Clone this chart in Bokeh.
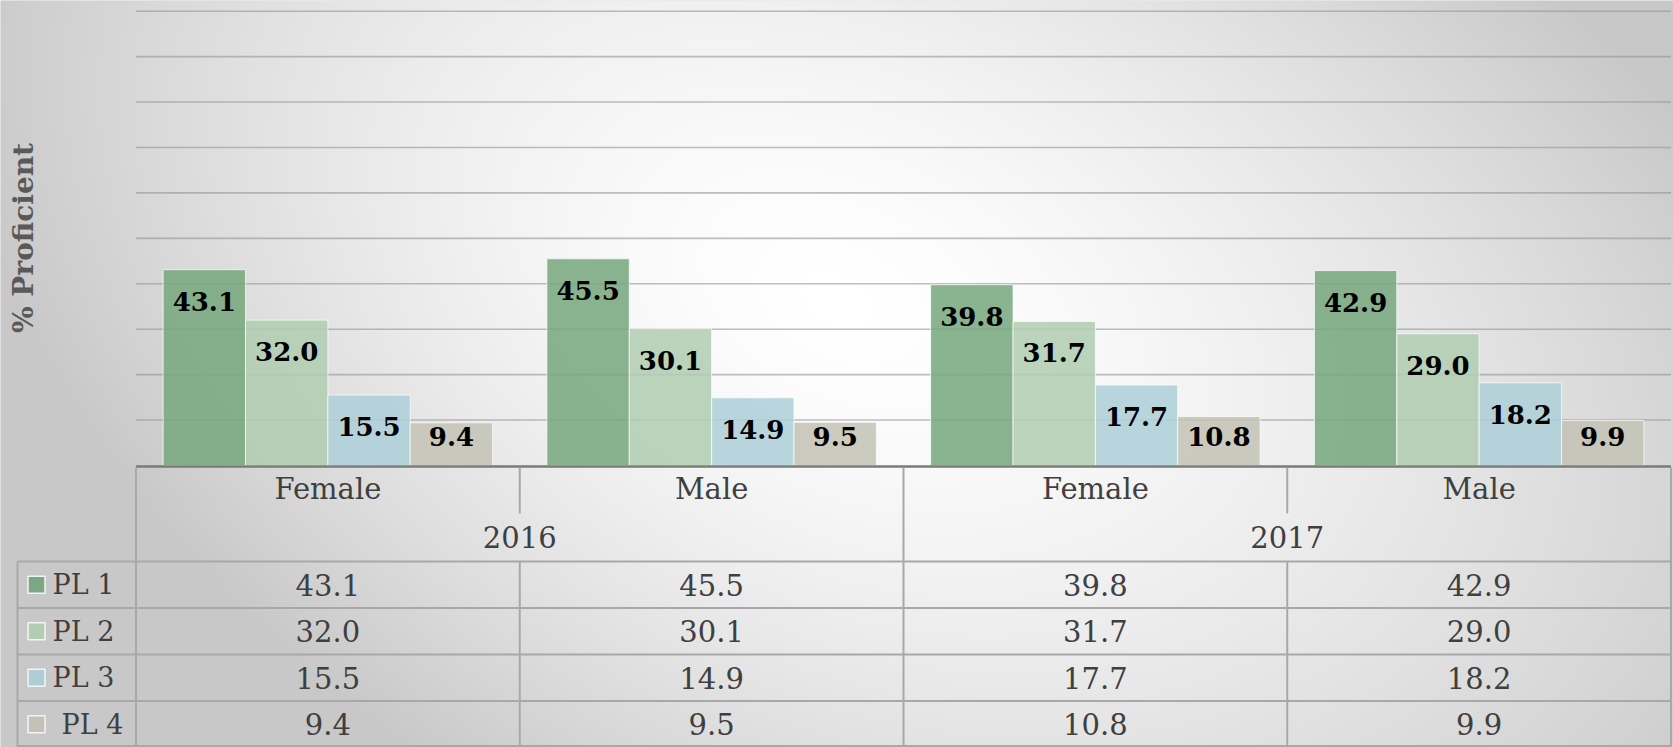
import numpy as np
from bokeh.plotting import figure
from bokeh.models import Range1d, ColumnDataSource
from bokeh.transform import dodge
from bokeh.core.properties import value
from bokeh.embed import file_html
from bokeh.resources import INLINE

# ---------------- data ----------------
years = ["2016", "2017"]
genders = ["Female", "Male", "Female", "Male"]
series = ["PL 1", "PL 2", "PL 3", "PL 4"]
pl1 = [43.1, 45.5, 39.8, 42.9]
pl2 = [32.0, 30.1, 31.7, 29.0]
pl3 = [15.5, 14.9, 17.7, 18.2]
pl4 = [9.4, 9.5, 10.8, 9.9]
y_ticks = [10, 20, 30, 40, 50, 60, 70, 80, 90, 100]
y_title = "% Proficient"
colors = ["#77a67e", "#b2cdb1", "#adcfd8", "#c4c2b5"]

# ---------------- layout (reference pixel frame) ----------------
W_REF, H_REF = 1673, 747
FIG_W, FIG_H = 1673, 747
BASE_PX, TOP_PX, YMAX = 465.0, 10.7, 100.0
K = (BASE_PX - TOP_PX) / YMAX            # px per value unit
CAT_LEFT, CAT_RIGHT = 135.5, 1670.5
NCAT = len(genders)
CAT_W = (CAT_RIGHT - CAT_LEFT) / NCAT
TABLE_LEFT = 17.0
ROW1_TOP, ROW2_TOP, HEAD_BOT = 465.0, 513.0, 561.0
ROW_H = (H_REF - HEAD_BOT) / 4
BAR_W = 0.2146
FONT = "DejaVu Serif"
TXT_COL = "#3f3f3f"
LINE_COL = "#a8a8a8"
TBL_SIZE = 29.0
SHIFT = 11.0 * TBL_SIZE / 27.0   # renderer places alphabetic text this much lower
SHIFT_PL = 11.0
SHIFT_LAB = 11.0 * 26.0 / 27.0

p = figure(width=FIG_W, height=FIG_H, x_range=Range1d(0, W_REF), y_range=Range1d(H_REF, 0),
           x_axis_type=None, y_axis_type=None, toolbar_location=None,
           output_backend="svg", min_border=0)
p.outline_line_color = None
p.background_fill_color = "#d6d6d6"
p.border_fill_color = "#d6d6d6"
p.grid.visible = False

p.extra_x_ranges = {"cat": Range1d(-CAT_LEFT / CAT_W, (W_REF - CAT_LEFT) / CAT_W),
                    "bg": Range1d(0, 1)}
p.extra_y_ranges = {"val": Range1d(-(H_REF - BASE_PX) / K, BASE_PX / K),
                    "bg": Range1d(0, 1)}

# ---------------- background gradient ----------------
Hb, Wb = 374, 837
xs = (np.arange(Wb) + 0.5) / Wb * W_REF
ys = H_REF - (np.arange(Hb) + 0.5) / Hb * H_REF
X, Y = np.meshgrid(xs, ys)
cx = 700 + 0.45 * Y
rx = np.where(X > cx, 960.0, 820.0)
r = np.sqrt(((X - cx) / rx) ** 2 + ((Y - 300.0) / 700.0) ** 2)
t = np.clip(r, 0, 1) ** 1.5
g = np.round(255 - 55 * t).astype(np.uint8)
img = np.empty((Hb, Wb), dtype=np.uint32)
view = img.view(dtype=np.uint8).reshape((Hb, Wb, 4))
view[..., 0] = g
view[..., 1] = g
view[..., 2] = g
view[..., 3] = 255
p.image_rgba(image=[img], x=0, y=0, dw=1, dh=1, x_range_name="bg", y_range_name="bg")

# ---------------- gridlines ----------------
p.segment(x0=CAT_LEFT, x1=CAT_RIGHT, y0=y_ticks, y1=y_ticks, y_range_name="val",
          line_color="#959595", line_alpha=0.6, line_width=1.6)

# ---------------- bars + labels ----------------
vals = [pl1, pl2, pl3, pl4]
src = {"idx": [i + 0.5 for i in range(NCAT)]}
drop = (42.0 - SHIFT_LAB) / K
floor = (18.0 + SHIFT_LAB) / K
for j, v in enumerate(vals):
    src[f"v{j}"] = v
    src[f"t{j}"] = [f"{a:.1f}" for a in v]
    src[f"l{j}"] = [max(a - drop, floor) for a in v]
source = ColumnDataSource(src)
offsets = [(j - 1.5) * BAR_W for j in range(4)]
for j in range(4):
    p.vbar(x=dodge("idx", offsets[j]), top=f"v{j}", bottom=0, width=BAR_W, source=source,
           x_range_name="cat", y_range_name="val", fill_color=colors[j], fill_alpha=0.86,
           line_color="white", line_alpha=0.7, line_width=1)
for j in range(4):
    p.text(x=dodge("idx", offsets[j]), y=f"l{j}", text=f"t{j}", source=source,
           x_range_name="cat", y_range_name="val", text_align="center",
           text_baseline="alphabetic", text_font=value(FONT), text_font_style="bold",
           text_font_size="26px", text_color="#000000")

# ---------------- category axis / table ----------------
p.segment(x0=[CAT_LEFT], x1=[CAT_RIGHT], y0=[BASE_PX + 1], y1=[BASE_PX + 1],
          line_color="#7a7a7a", line_width=2.5)
h_lines = [HEAD_BOT + ROW_H * r for r in range(5)]
h_lines[-1] = H_REF - 1.5
p.segment(x0=TABLE_LEFT, x1=CAT_RIGHT, y0=h_lines, y1=h_lines,
          line_color=LINE_COL, line_width=2)
p.segment(x0=[CAT_LEFT, CAT_RIGHT, TABLE_LEFT], x1=[CAT_LEFT, CAT_RIGHT, TABLE_LEFT],
          y0=[ROW1_TOP + 2, ROW1_TOP + 2, HEAD_BOT], y1=[H_REF, H_REF, H_REF],
          line_color=LINE_COL, line_width=2)
year_seps = [2]
p.segment(x0=year_seps, x1=year_seps, y0=ROW1_TOP + 2, y1=H_REF, x_range_name="cat",
          line_color=LINE_COL, line_width=2)
g_seps = [1, 3]
p.segment(x0=g_seps, x1=g_seps, y0=ROW1_TOP + 2, y1=ROW2_TOP, x_range_name="cat",
          line_color=LINE_COL, line_width=2)
p.segment(x0=g_seps, x1=g_seps, y0=HEAD_BOT, y1=H_REF, x_range_name="cat",
          line_color=LINE_COL, line_width=2)

tsize = f"{TBL_SIZE:.0f}px"
p.text(x=[i + 0.5 for i in range(NCAT)], y=ROW1_TOP + 35.5 - SHIFT, text=genders,
       x_range_name="cat", text_align="center", text_baseline="alphabetic",
       text_font=value(FONT), text_font_size=tsize, text_color=TXT_COL)
p.text(x=[2 * i + 1 for i in range(len(years))], y=ROW2_TOP + 35.5 - SHIFT, text=years,
       x_range_name="cat", text_align="center", text_baseline="alphabetic",
       text_font=value(FONT), text_font_size=tsize, text_color=TXT_COL)

for j in range(4):
    row_base = HEAD_BOT + ROW_H * j + 35 - SHIFT
    p.text(x=[i + 0.5 for i in range(NCAT)], y=row_base, text=[f"{a:.1f}" for a in vals[j]],
           x_range_name="cat", text_align="center", text_baseline="alphabetic",
           text_font=value(FONT), text_font_size=tsize, text_color=TXT_COL)

row_centers = [HEAD_BOT + ROW_H * (j + 0.5) for j in range(4)]
p.rect(x=36, y=row_centers, width=17, height=17, fill_color=colors, fill_alpha=0.95,
       line_color="#f4f4f4", line_width=1.5)
p.text(x=[52, 52, 52, 61], y=[c + 11 - SHIFT_PL for c in row_centers], text=series,
       text_align="left", text_baseline="alphabetic", text_font=value(FONT),
       text_font_size="27px", text_color=TXT_COL)

p.text(x=[23], y=[ROW1_TOP / 2 + 5], text=[y_title], angle=np.pi / 2,
       text_align="center", text_baseline="alphabetic", text_font=value(FONT),
       text_font_style="bold", text_font_size="28px", text_color="#595959")

open("out.html", "w").write(file_html(p, INLINE))
